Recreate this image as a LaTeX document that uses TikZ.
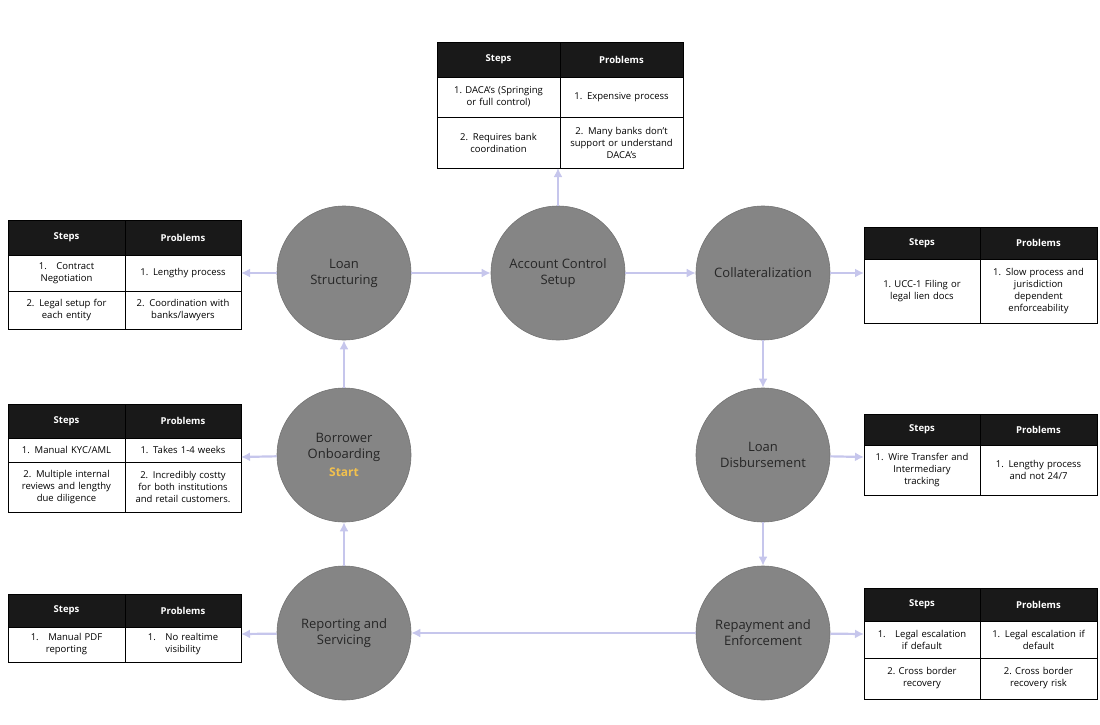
\documentclass[tikz,border=0pt]{standalone}
\usepackage{fontspec}
\setmainfont{Open Sans}
\usetikzlibrary{arrows.meta}

\tikzset{
  stage/.style={circle, draw=black!55, fill=black!48, line width=0.6pt, minimum size=134pt,
    align=center, font=\fontsize{13}{16}\selectfont, text=black!85},
  flow/.style={draw=gray!50!blue!30, line width=2.2pt, -{Latex[length=9pt,width=9pt]}},
  cellbox/.style={draw=black, line width=0.8pt, fill=white},
  headbox/.style={draw=black, line width=0.8pt, fill=black!90},
}

% one table cell: name, x1, y1, x2, y2, text
\newcommand{\cell}[6]{%
  \draw[cellbox] (#2,#3) rectangle (#4,#5);
  \node[align=center, text width={(#4-#2-10)*1pt}, font=\fontsize{9.5}{12}\selectfont]
    (#1) at ({(#2+#4)/2},{(#3+#5)/2}) {#6};}
\newcommand{\head}[6]{%
  \draw[headbox] (#2,#3) rectangle (#4,#5);
  \node[text=white, font=\fontsize{9.5}{12}\selectfont\bfseries]
    (#1) at ({(#2+#4)/2},{(#3+#5)/2}) {#6};}

\begin{document}
\begin{tikzpicture}[x=1pt, y=-1pt]
  \useasboundingbox (0,0) rectangle (1100,725);

  % stages
  \node[stage] (ls) at (344,273) {Loan\\Structuring};
  \node[stage] (acs) at (558,273) {Account Control\\Setup};
  \node[stage] (col) at (763,273) {Collateralization};
  \node[stage] (bo) at (344,455) {Borrower\\Onboarding\\[2pt]{\color[HTML]{F2C14E}\bfseries\fontsize{12}{14}\selectfont Start}};
  \node[stage] (ld) at (763,455) {Loan\\Disbursement};
  \node[stage] (rs) at (344,633) {Reporting and\\Servicing};
  \node[stage] (re) at (763,633) {Repayment and\\Enforcement};

  % loan structuring table
  \head{lsh1}{8}{220}{125}{255}{Steps}
  \head{lsh2}{125}{220}{241}{255}{Problems}
  \cell{lsa1}{8}{255}{125}{291}{1.\quad Contract\\Negotiation}
  \cell{lsb1}{125}{255}{241}{291}{1. Lengthy process}
  \cell{lsa2}{8}{291}{125}{329}{2. Legal setup for\\each entity}
  \cell{lsb2}{125}{291}{241}{329}{2. Coordination with\\banks/lawyers}
  \coordinate (lse) at (241,273);

  % borrower onboarding table
  \head{boh1}{8}{404}{125}{438}{Steps}
  \head{boh2}{125}{404}{241}{438}{Problems}
  \cell{boa1}{8}{438}{125}{462}{1. Manual KYC/AML}
  \cell{bob1}{125}{438}{241}{462}{1. Takes 1-4 weeks}
  \cell{boa2}{8}{462}{125}{512}{2. Multiple internal\\reviews and lengthy\\due diligence}
  \cell{bob2}{125}{462}{241}{512}{2. Incredibly costty\\for both institutions\\and retail customers.}
  \coordinate (boe) at (241,457);

  % reporting table
  \head{rsh1}{8}{594}{125}{627}{Steps}
  \head{rsh2}{125}{594}{241}{627}{Problems}
  \cell{rsa1}{8}{627}{125}{662}{1.\quad Manual PDF\\reporting}
  \cell{rsb1}{125}{627}{241}{662}{1.\quad No realtime\\visibility}
  \coordinate (rse) at (241,634);

  % account control table
  \head{ach1}{437}{42}{560}{77}{Steps}
  \head{ach2}{560}{42}{683}{77}{Problems}
  \cell{aca1}{437}{77}{560}{117}{1.\ DACA's (Springing\\or full control)}
  \cell{acb1}{560}{77}{683}{117}{1. Expensive process}
  \cell{aca2}{437}{117}{560}{168}{2. Requires bank\\coordination}
  \cell{acb2}{560}{117}{683}{168}{2. Many banks don't\\support or understand\\DACA's}
  \coordinate (ace) at (558,168);

  % collateralization table
  \head{coh1}{864}{227}{980}{259}{Steps}
  \head{coh2}{980}{227}{1097}{259}{Problems}
  \cell{coa1}{864}{259}{980}{323}{1.\ UCC-1 Filing or\\legal lien docs}
  \cell{cob1}{980}{259}{1097}{323}{1. Slow process and\\jurisdiction\\dependent\\enforceability}
  \coordinate (coe) at (864,273);

  % disbursement table
  \head{ldh1}{864}{414}{980}{445}{Steps}
  \head{ldh2}{980}{414}{1097}{445}{Problems}
  \cell{lda1}{864}{445}{980}{495}{1. Wire Transfer and\\Intermediary\\tracking}
  \cell{ldb1}{980}{445}{1097}{495}{1. Lengthy process\\and not 24/7}
  \coordinate (lde) at (864,457);

  % repayment table
  \head{reh1}{864}{588}{980}{621}{Steps}
  \head{reh2}{980}{588}{1097}{621}{Problems}
  \cell{rea1}{864}{621}{980}{658}{1.\quad Legal escalation\\if default}
  \cell{reb1}{980}{621}{1097}{658}{1. Legal escalation if\\default}
  \cell{rea2}{864}{658}{980}{699}{2.\ Cross border\\recovery}
  \cell{reb2}{980}{658}{1097}{699}{2.\ Cross border\\recovery risk}
  \coordinate (ree) at (864,634);

  % flow
  \draw[flow] (ls) -- (acs);
  \draw[flow] (acs) -- (col);
  \draw[flow] (acs) -- (ace);
  \draw[flow] (col) -- (coe);
  \draw[flow] (col) -- (ld);
  \draw[flow] (ld) -- (lde);
  \draw[flow] (ld) -- (re);
  \draw[flow] (re) -- (ree);
  \draw[flow] (re) -- (rs);
  \draw[flow] (rs) -- (bo);
  \draw[flow] (bo) -- (ls);
  \draw[flow] (ls) -- (lse);
  \draw[flow] (bo) -- (boe);
  \draw[flow] (rs) -- (rse);
\end{tikzpicture}
\end{document}
